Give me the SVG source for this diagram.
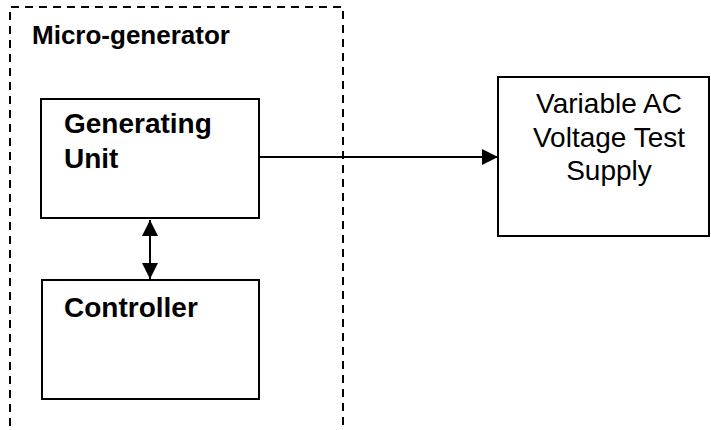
<svg xmlns="http://www.w3.org/2000/svg" width="711" height="430" viewBox="0 0 711 430">
<style>
.box{fill:#fff;stroke:#000;stroke-width:2}
.dash{fill:none;stroke:#000;stroke-width:2;stroke-dasharray:8,6}
.b{font-family:"Liberation Sans",Arial,sans-serif;font-weight:bold;font-size:28px;fill:#000}
.n{font-family:"Liberation Sans",Arial,sans-serif;font-size:28px;fill:#000;text-anchor:middle}
.line{stroke:#000;stroke-width:2;fill:none}
</style>
<defs>
<marker id="ah" viewBox="0 0 10 10" refX="10" refY="5" markerWidth="8" markerHeight="8" markerUnits="userSpaceOnUse" orient="auto-start-reverse">
<path d="M0,0 L10,5 L0,10 z" fill="#000"/>
</marker>
<marker id="ah2" viewBox="0 0 10 10" refX="10" refY="5" markerWidth="16" markerHeight="16" markerUnits="userSpaceOnUse" orient="auto-start-reverse">
<path d="M0,0 L10,5 L0,10 z" fill="#000"/>
</marker>
</defs>
<rect width="711" height="430" fill="#fff"/>
<g id="micro-generator">
<path class="dash" d="M10,440 L10,7 L343,7 L343,440"/>
<text class="b" x="32" y="44" font-size="26" style="font-size:26px">Micro-generator</text>
</g>
<g id="generating-unit">
<rect class="box" x="41" y="99" width="218" height="119"/>
<text class="b" x="64" y="133">Generating</text>
<text class="b" x="64" y="168">Unit</text>
</g>
<g id="controller">
<rect class="box" x="42" y="280" width="217" height="119"/>
<text class="b" x="64" y="317">Controller</text>
</g>
<g id="supply">
<rect class="box" x="498" y="77" width="211" height="159"/>
<text class="n" x="609" y="113">Variable AC</text>
<text class="n" x="609" y="147">Voltage Test</text>
<text class="n" x="609" y="180">Supply</text>
</g>
<g id="connectors">
<line class="line" x1="259" y1="157" x2="498" y2="157" marker-end="url(#ah2)"/>
<line class="line" x1="150" y1="220" x2="150" y2="279" marker-start="url(#ah2)" marker-end="url(#ah2)"/>
</g>
</svg>
